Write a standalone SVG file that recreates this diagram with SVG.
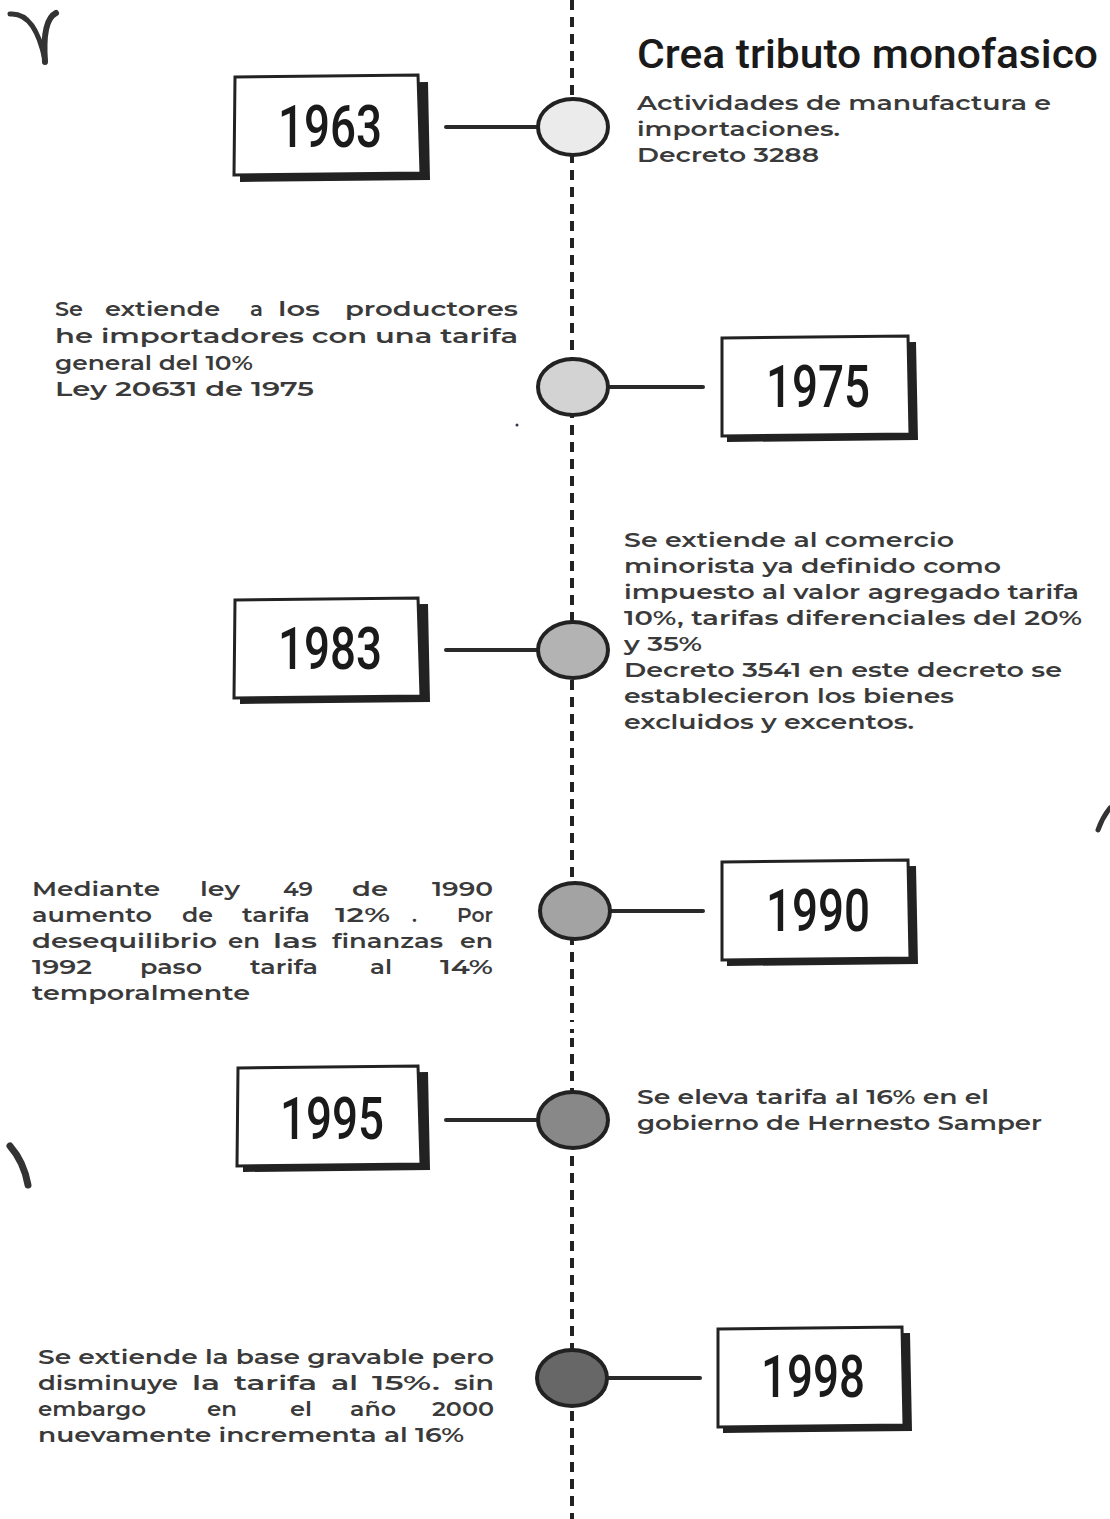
<svg xmlns="http://www.w3.org/2000/svg" width="1110" height="1519" viewBox="0 0 1110 1519">
<style>
.body{font-family:"Montserrat","Open Sans","DejaVu Sans",sans-serif;font-weight:600;font-size:20px;fill:#3a3a3a}
.year{font-family:"Roboto","DejaVu Sans Condensed",sans-serif;font-weight:500;font-size:60px;fill:#1a1a1a;text-anchor:middle}
.title{font-family:"Roboto","DejaVu Sans",sans-serif;font-weight:500;font-size:40px;fill:#1a1a1a}
.box{fill:#fff;stroke:#222;stroke-width:3}
.shadow{fill:#222}
.conn{stroke:#2a2a2a;stroke-width:4;stroke-linecap:round;fill:none}
.dot{stroke:#222;stroke-width:4}
.deco{stroke:#333;fill:none;stroke-linecap:round}
</style>
<rect width="1110" height="1519" fill="#fff"/>
<g id="timeline">
<line x1="572" y1="0" x2="572" y2="1519" stroke="#222" stroke-width="4" stroke-dasharray="10 7"/>
<rect x="568" y="1022" width="8" height="16" fill="#fff"/>
<rect x="570" y="1029" width="4" height="4" fill="#222"/>
</g>
<g id="connectors">
<line class="conn" x1="446" y1="127" x2="538" y2="127"/>
<line class="conn" x1="608" y1="387" x2="703" y2="387"/>
<line class="conn" x1="446" y1="650" x2="538" y2="650"/>
<line class="conn" x1="610" y1="911" x2="703" y2="911"/>
<line class="conn" x1="446" y1="1120" x2="538" y2="1120"/>
<line class="conn" x1="607" y1="1378" x2="700" y2="1378"/>
</g>
<g id="dots">
<ellipse class="dot" cx="573" cy="127" rx="35" ry="28" fill="#ebebeb"/>
<ellipse class="dot" cx="573" cy="387" rx="35" ry="28" fill="#d3d3d3"/>
<ellipse class="dot" cx="573" cy="650" rx="35" ry="28" fill="#b3b3b3"/>
<ellipse class="dot" cx="575" cy="911" rx="35" ry="28" fill="#a3a3a3"/>
<ellipse class="dot" cx="573" cy="1120" rx="35" ry="28" fill="#888"/>
<ellipse class="dot" cx="572" cy="1378" rx="35" ry="28" fill="#676767"/>
</g>
<g id="n1963">
<path class="shadow" d="M240 84 L428 82 L430 180 L240 182 Z"/>
<path class="box" d="M235 77 L418 75 L421 173 L234 175 Z"/>
<text class="year" x="330" y="147" textLength="104" lengthAdjust="spacingAndGlyphs">1963</text>
</g>
<g id="n1975">
<path class="shadow" d="M727 344 L916 342 L918 440 L727 442 Z"/>
<path class="box" d="M722 338 L908 336 L910 434 L722 436 Z"/>
<text class="year" x="818" y="407" textLength="104" lengthAdjust="spacingAndGlyphs">1975</text>
</g>
<g id="n1983">
<path class="shadow" d="M240 606 L428 604 L430 702 L240 704 Z"/>
<path class="box" d="M235 600 L418 598 L421 696 L234 698 Z"/>
<text class="year" x="330" y="669" textLength="104" lengthAdjust="spacingAndGlyphs">1983</text>
</g>
<g id="n1990">
<path class="shadow" d="M727 868 L916 866 L918 964 L727 966 Z"/>
<path class="box" d="M722 862 L908 860 L910 958 L722 960 Z"/>
<text class="year" x="818" y="931" textLength="104" lengthAdjust="spacingAndGlyphs">1990</text>
</g>
<g id="n1995">
<path class="shadow" d="M243 1074 L428 1072 L430 1170 L243 1172 Z"/>
<path class="box" d="M238 1068 L418 1066 L421 1164 L237 1166 Z"/>
<text class="year" x="332" y="1139" textLength="104" lengthAdjust="spacingAndGlyphs">1995</text>
</g>
<g id="n1998">
<path class="shadow" d="M723 1335 L910 1333 L912 1431 L723 1433 Z"/>
<path class="box" d="M718 1329 L902 1327 L904 1425 L718 1427 Z"/>
<text class="year" x="813" y="1397" textLength="104" lengthAdjust="spacingAndGlyphs">1998</text>
</g>
<g id="t1963">
<text class="title" x="637" y="68" textLength="461" lengthAdjust="spacingAndGlyphs">Crea tributo monofasico</text>
<text class="body" x="637" y="110" textLength="414" lengthAdjust="spacingAndGlyphs">Actividades de manufactura e</text>
<text class="body" x="637" y="136" textLength="203" lengthAdjust="spacingAndGlyphs">importaciones.</text>
<text class="body" x="637" y="162" textLength="182" lengthAdjust="spacingAndGlyphs">Decreto 3288</text>
</g>
<g id="t1975">
<text class="body" y="316"><tspan x="55" textLength="28" lengthAdjust="spacingAndGlyphs">Se</tspan><tspan x="105" textLength="115" lengthAdjust="spacingAndGlyphs">extiende</tspan><tspan x="250" textLength="13" lengthAdjust="spacingAndGlyphs">a</tspan><tspan x="278" textLength="42" lengthAdjust="spacingAndGlyphs">los</tspan><tspan x="345" textLength="173" lengthAdjust="spacingAndGlyphs">productores</tspan></text>
<text class="body" x="55" y="343" textLength="463" lengthAdjust="spacingAndGlyphs">he importadores con una tarifa</text>
<text class="body" x="55" y="370" textLength="198" lengthAdjust="spacingAndGlyphs">general  del 10%</text>
<text class="body" x="55" y="396" textLength="259" lengthAdjust="spacingAndGlyphs">Ley 20631 de 1975</text>
</g>
<g id="t1983">
<text class="body" x="624" y="547" textLength="330" lengthAdjust="spacingAndGlyphs">Se extiende al comercio</text>
<text class="body" x="624" y="573" textLength="377" lengthAdjust="spacingAndGlyphs">minorista ya definido como</text>
<text class="body" x="624" y="599" textLength="455" lengthAdjust="spacingAndGlyphs">impuesto al valor agregado tarifa</text>
<text class="body" x="624" y="625" textLength="458" lengthAdjust="spacingAndGlyphs">10%, tarifas diferenciales del 20%</text>
<text class="body" x="624" y="651" textLength="78" lengthAdjust="spacingAndGlyphs">y 35%</text>
<text class="body" x="624" y="677" textLength="438" lengthAdjust="spacingAndGlyphs">Decreto 3541  en este decreto se</text>
<text class="body" x="624" y="703" textLength="330" lengthAdjust="spacingAndGlyphs">establecieron los bienes</text>
<text class="body" x="624" y="729" textLength="290" lengthAdjust="spacingAndGlyphs">excluidos y excentos.</text>
</g>
<g id="t1990">
<text class="body" y="896"><tspan x="32" textLength="128" lengthAdjust="spacingAndGlyphs">Mediante</tspan><tspan x="200" textLength="40" lengthAdjust="spacingAndGlyphs">ley</tspan><tspan x="283" textLength="30" lengthAdjust="spacingAndGlyphs">49</tspan><tspan x="352" textLength="36" lengthAdjust="spacingAndGlyphs">de</tspan><tspan x="432" textLength="61" lengthAdjust="spacingAndGlyphs">1990</tspan></text>
<text class="body" y="922"><tspan x="32" textLength="120" lengthAdjust="spacingAndGlyphs">aumento</tspan><tspan x="182" textLength="31" lengthAdjust="spacingAndGlyphs">de</tspan><tspan x="242" textLength="68" lengthAdjust="spacingAndGlyphs">tarifa</tspan><tspan x="335" textLength="55" lengthAdjust="spacingAndGlyphs">12%</tspan><tspan x="412">.</tspan><tspan x="457" textLength="36" lengthAdjust="spacingAndGlyphs">Por</tspan></text>
<text class="body" y="948"><tspan x="32" textLength="185" lengthAdjust="spacingAndGlyphs">desequilibrio</tspan><tspan x="228" textLength="32" lengthAdjust="spacingAndGlyphs">en</tspan><tspan x="273" textLength="44" lengthAdjust="spacingAndGlyphs">las</tspan><tspan x="332" textLength="111" lengthAdjust="spacingAndGlyphs">finanzas</tspan><tspan x="460" textLength="33" lengthAdjust="spacingAndGlyphs">en</tspan></text>
<text class="body" y="974"><tspan x="32" textLength="60" lengthAdjust="spacingAndGlyphs">1992</tspan><tspan x="140" textLength="62" lengthAdjust="spacingAndGlyphs">paso</tspan><tspan x="250" textLength="68" lengthAdjust="spacingAndGlyphs">tarifa</tspan><tspan x="370" textLength="22" lengthAdjust="spacingAndGlyphs">al</tspan><tspan x="440" textLength="53" lengthAdjust="spacingAndGlyphs">14%</tspan></text>
<text class="body" x="32" y="1000" textLength="218" lengthAdjust="spacingAndGlyphs">temporalmente</text>
</g>
<g id="t1995">
<text class="body" x="637" y="1104" textLength="352" lengthAdjust="spacingAndGlyphs">Se eleva tarifa al 16% en el</text>
<text class="body" x="637" y="1130" textLength="405" lengthAdjust="spacingAndGlyphs">gobierno de Hernesto Samper</text>
</g>
<g id="t1998">
<text class="body" x="38" y="1364" textLength="456" lengthAdjust="spacingAndGlyphs">Se extiende la base gravable pero</text>
<text class="body" y="1390"><tspan x="38" textLength="140" lengthAdjust="spacingAndGlyphs">disminuye</tspan><tspan x="192" textLength="28" lengthAdjust="spacingAndGlyphs">la</tspan><tspan x="234" textLength="83" lengthAdjust="spacingAndGlyphs">tarifa</tspan><tspan x="331" textLength="27" lengthAdjust="spacingAndGlyphs">al</tspan><tspan x="372" textLength="68" lengthAdjust="spacingAndGlyphs">15%.</tspan><tspan x="454" textLength="40" lengthAdjust="spacingAndGlyphs">sin</tspan></text>
<text class="body" y="1416"><tspan x="38" textLength="108" lengthAdjust="spacingAndGlyphs">embargo</tspan><tspan x="207" textLength="30" lengthAdjust="spacingAndGlyphs">en</tspan><tspan x="290" textLength="22" lengthAdjust="spacingAndGlyphs">el</tspan><tspan x="350" textLength="46" lengthAdjust="spacingAndGlyphs">año</tspan><tspan x="432" textLength="62" lengthAdjust="spacingAndGlyphs">2000</tspan></text>
<text class="body" x="38" y="1442" textLength="426" lengthAdjust="spacingAndGlyphs">nuevamente incrementa al 16%</text>
</g>
<g id="decorations">
<path class="deco" stroke-width="5" d="M10 14 Q35 12 45 60"/>
<path class="deco" stroke-width="6" d="M45 62 Q42 20 56 13"/>
<path class="deco" stroke-width="5" d="M1098 830 Q1102 818 1110 808"/>
<path class="deco" stroke-width="7" d="M10 1146 Q24 1162 28 1185"/>
<circle cx="517" cy="425" r="1.5" fill="#335"/>
</g>
</svg>
